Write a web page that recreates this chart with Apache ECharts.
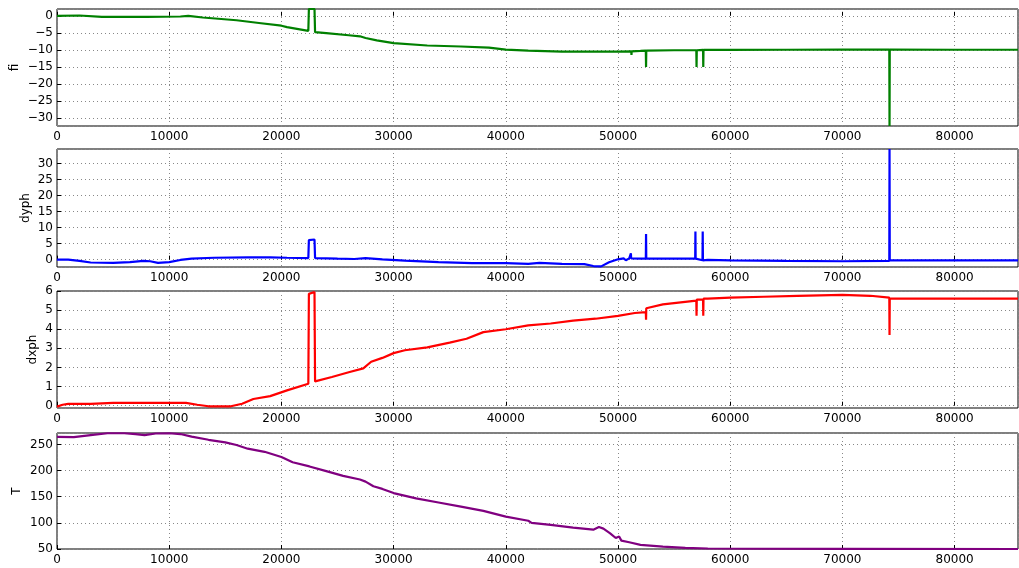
<!DOCTYPE html>
<html><head><meta charset="utf-8">
<script src="https://cdn.jsdelivr.net/npm/echarts@6/dist/echarts.min.js"></script>
<style>html,body{margin:0;padding:0;background:#fff}#c{width:1019px;height:568px}</style>
</head><body><div id="c"></div>
<script>
// ---- data ----
const xMin = 0, xMax = 85650, xStep = 10000;

const fiX = [0,2000,4000,8000,11000,11700,13000,16000,18000,20000,20500,22400,22450,22950,23000,24000,26000,27000,27500,28500,30000,33000,36000,38500,40000,42000,45000,48000,50000,51180,51200,51220,52000,52480,52500,52520,55000,56980,57000,57020,57580,57600,57620,60000,65000,70000,74180,74200,74220,80000,85650];
const fiY = [0,0.1,-0.3,-0.3,-0.2,0,-0.5,-1.3,-2.1,-2.9,-3.3,-4.4,2,2,-4.8,-5.1,-5.7,-6,-6.5,-7.2,-8,-8.7,-9,-9.3,-9.9,-10.2,-10.5,-10.5,-10.5,-10.4,-11.5,-10.4,-10.3,-10.2,-15,-10.2,-10.1,-10.1,-15,-10.1,-10,-15,-10,-10,-9.95,-9.9,-9.9,-32.3,-9.9,-9.95,-9.95];

const dyX = [0,1000,2000,3000,5000,6500,7700,8300,9000,10000,11000,12000,14000,17000,19000,20500,22400,22450,22950,23000,25000,26500,27500,29000,31000,34000,37000,40000,42000,43000,45000,47000,47800,48500,49200,50000,50500,50700,51000,51130,51150,51170,52000,52480,52500,52520,54000,56880,56900,56920,57530,57550,57570,58000,60000,65000,70000,74180,74200,74220,80000,85650];
const dyY = [0,0,-0.4,-0.9,-1,-0.8,-0.4,-0.5,-1,-0.8,-0.1,0.3,0.6,0.7,0.7,0.6,0.5,6.1,6.3,0.5,0.3,0.2,0.5,0.1,-0.3,-0.8,-1.1,-1.1,-1.3,-1.0,-1.3,-1.4,-2,-2.1,-0.8,0.1,0.4,-0.2,0.4,0.4,2,0.4,0.3,0.3,8,0.3,0.3,0.3,8.8,0.3,-0.2,8.8,-0.2,-0.1,-0.2,-0.4,-0.5,-0.4,34.6,-0.2,-0.2,-0.2];

const dxX = [0,500,1000,3000,5000,8000,10000,11500,12500,13500,15500,16500,17500,19000,20500,22400,22450,22950,23000,24500,26000,27300,28000,29000,30000,31000,33000,35000,36500,38000,40000,42000,44000,46000,48000,50000,51500,52480,52500,52520,54000,56980,57000,57020,57580,57600,57620,58000,60000,63000,66000,70000,72500,74180,74200,74220,80000,85650];
const dxY = [-0.05,0.05,0.1,0.1,0.15,0.15,0.15,0.15,0.05,-0.03,-0.03,0.1,0.35,0.5,0.8,1.15,5.85,5.95,1.27,1.5,1.75,1.95,2.3,2.5,2.75,2.9,3.05,3.3,3.5,3.85,4.0,4.2,4.3,4.45,4.55,4.7,4.85,4.9,4.5,5.1,5.3,5.5,4.7,5.55,5.55,4.7,5.6,5.6,5.65,5.7,5.75,5.8,5.75,5.65,3.7,5.6,5.6,5.6];

const tX = [0,1500,3000,4500,6000,7000,7800,8800,10000,11000,12000,13500,15000,16000,17000,18500,20000,21000,22500,24000,25500,27000,27500,28200,29000,30000,32000,34000,36000,38000,40000,42000,42300,44000,46000,47800,48300,48700,49300,49800,50100,50300,51000,52000,54000,56000,58000,62000,70000,85650];
const tY = [264.5,264,268,271.5,271.5,270,268,271,271.5,270,265,259,254,249,242,236,226,216,208,199,190,183,179,170,165,157,147,139,131,123,112,104,100,96,91,87,92,89,80,71,74,66,63,58,54.5,52,51,50.5,50.2,50];

const panelNames = ['fi','dyph','dxph','T'];
const panelColors = ['#008000','#0000ff','#ff0000','#800080'];
const yMins = [-32.3,-2.3,-0.12,50];
const yMaxs = [2,34.6,6,272];

// ---- chart ----
const zip = (xs, ys) => xs.map((x, i) => [x, ys[i]]);
const seriesData = [zip(fiX, fiY), zip(dyX, dyY), zip(dxX, dxY), zip(tX, tY)];

const tops = [9, 149, 291, 433];
const heights = [117, 118, 117, 116];
const nameGaps = [36, 25, 18, 34];
const splitNums = [7, 7, 6, 5];
const showMinL = [false, false, false, true];
const showMaxL = [false, false, true, false];
const font = 'DejaVu Sans';
const minus = v => String(v).replace('-', '\u2212');

const grids = [], xAxes = [], yAxes = [], series = [];
for (let i = 0; i < 4; i++) {
  grids.push({left: 57, right: 1, top: tops[i], height: heights[i], show: true,
    borderColor: '#000', borderWidth: 1, backgroundColor: 'transparent', containLabel: false});
  xAxes.push({type: 'value', gridIndex: i, min: xMin, max: xMax, interval: xStep,
    axisLine: {show: false},
    axisTick: {show: true, inside: true, length: 4, lineStyle: {color: '#000'}},
    axisLabel: {showMaxLabel: false, margin: 5, fontSize: 12, fontFamily: font, color: '#000',
      formatter: v => String(v)},
    splitLine: {show: true, lineStyle: {color: '#888', width: 1, type: [1, 3]}}});
  yAxes.push({type: 'value', gridIndex: i, min: yMins[i], max: yMaxs[i], splitNumber: splitNums[i],
    name: panelNames[i], nameLocation: 'middle', nameGap: nameGaps[i], nameMoveOverlap: false,
    nameTextStyle: {fontSize: 12, fontFamily: font, color: '#000'},
    axisLine: {show: false},
    axisTick: {show: true, inside: true, length: 4, lineStyle: {color: '#000'}},
    axisLabel: {showMinLabel: showMinL[i], showMaxLabel: showMaxL[i], margin: 4, fontSize: 12,
      fontFamily: font, color: '#000', formatter: minus},
    splitLine: {show: true, lineStyle: {color: '#888', width: 1, type: [1, 3]}}});
  series.push({type: 'line', xAxisIndex: i, yAxisIndex: i, data: seriesData[i],
    showSymbol: false, symbol: 'none', clip: true,
    lineStyle: {color: panelColors[i], width: 2.2}, itemStyle: {color: panelColors[i]}});
}

const chart = echarts.init(document.getElementById('c'), null, {renderer: 'canvas'});
chart.setOption({animation: false, backgroundColor: '#fff', grid: grids, xAxis: xAxes, yAxis: yAxes, series: series});
</script>
</body></html>
